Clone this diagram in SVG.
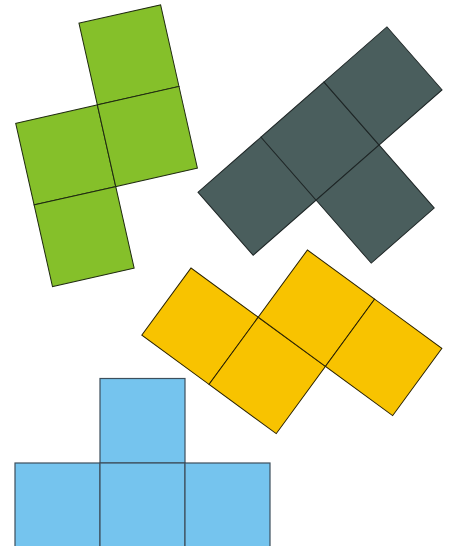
<svg xmlns="http://www.w3.org/2000/svg" width="454" height="546" viewBox="0 0 454 546">
<style>
.g{fill:#85c02a;stroke:#1f2a10;stroke-width:1}
.d{fill:#4a5e5d;stroke:#1e2626;stroke-width:1}
.y{fill:#f8c300;stroke:#2a2200;stroke-width:1}
.b{fill:#75c4ee;stroke:#3d4f5c;stroke-width:1.2}
</style>
<rect width="454" height="546" fill="#ffffff"/>
<g id="green" transform="translate(15.7,123.3) rotate(-12.7)">
<rect class="g" x="0" y="0" width="83.7" height="83.7"/>
<rect class="g" x="83.7" y="-83.7" width="83.7" height="83.7"/>
<rect class="g" x="83.7" y="0" width="83.7" height="83.7"/>
<rect class="g" x="0" y="83.7" width="83.7" height="83.7"/>
</g>
<g id="darkgrey" transform="translate(198,192.3) rotate(-41.2)">
<rect class="d" x="0" y="0" width="83.7" height="83.7"/>
<rect class="d" x="83.7" y="0" width="83.7" height="83.7"/>
<rect class="d" x="167.4" y="0" width="83.7" height="83.7"/>
<rect class="d" x="83.7" y="83.7" width="83.7" height="83.7"/>
</g>
<g id="yellow" transform="translate(191,268) rotate(36.2)">
<rect class="y" x="0" y="0" width="83.3" height="83.3"/>
<rect class="y" x="83.3" y="0" width="83.3" height="83.3"/>
<rect class="y" x="83.3" y="-83.3" width="83.3" height="83.3"/>
<rect class="y" x="166.6" y="-83.3" width="83.3" height="83.3"/>
</g>
<g id="blue">
<rect class="b" x="100" y="378.5" width="85" height="84.5"/>
<rect class="b" x="15" y="463" width="85" height="85"/>
<rect class="b" x="100" y="463" width="85" height="85"/>
<rect class="b" x="185" y="463" width="85" height="85"/>
</g>
</svg>
